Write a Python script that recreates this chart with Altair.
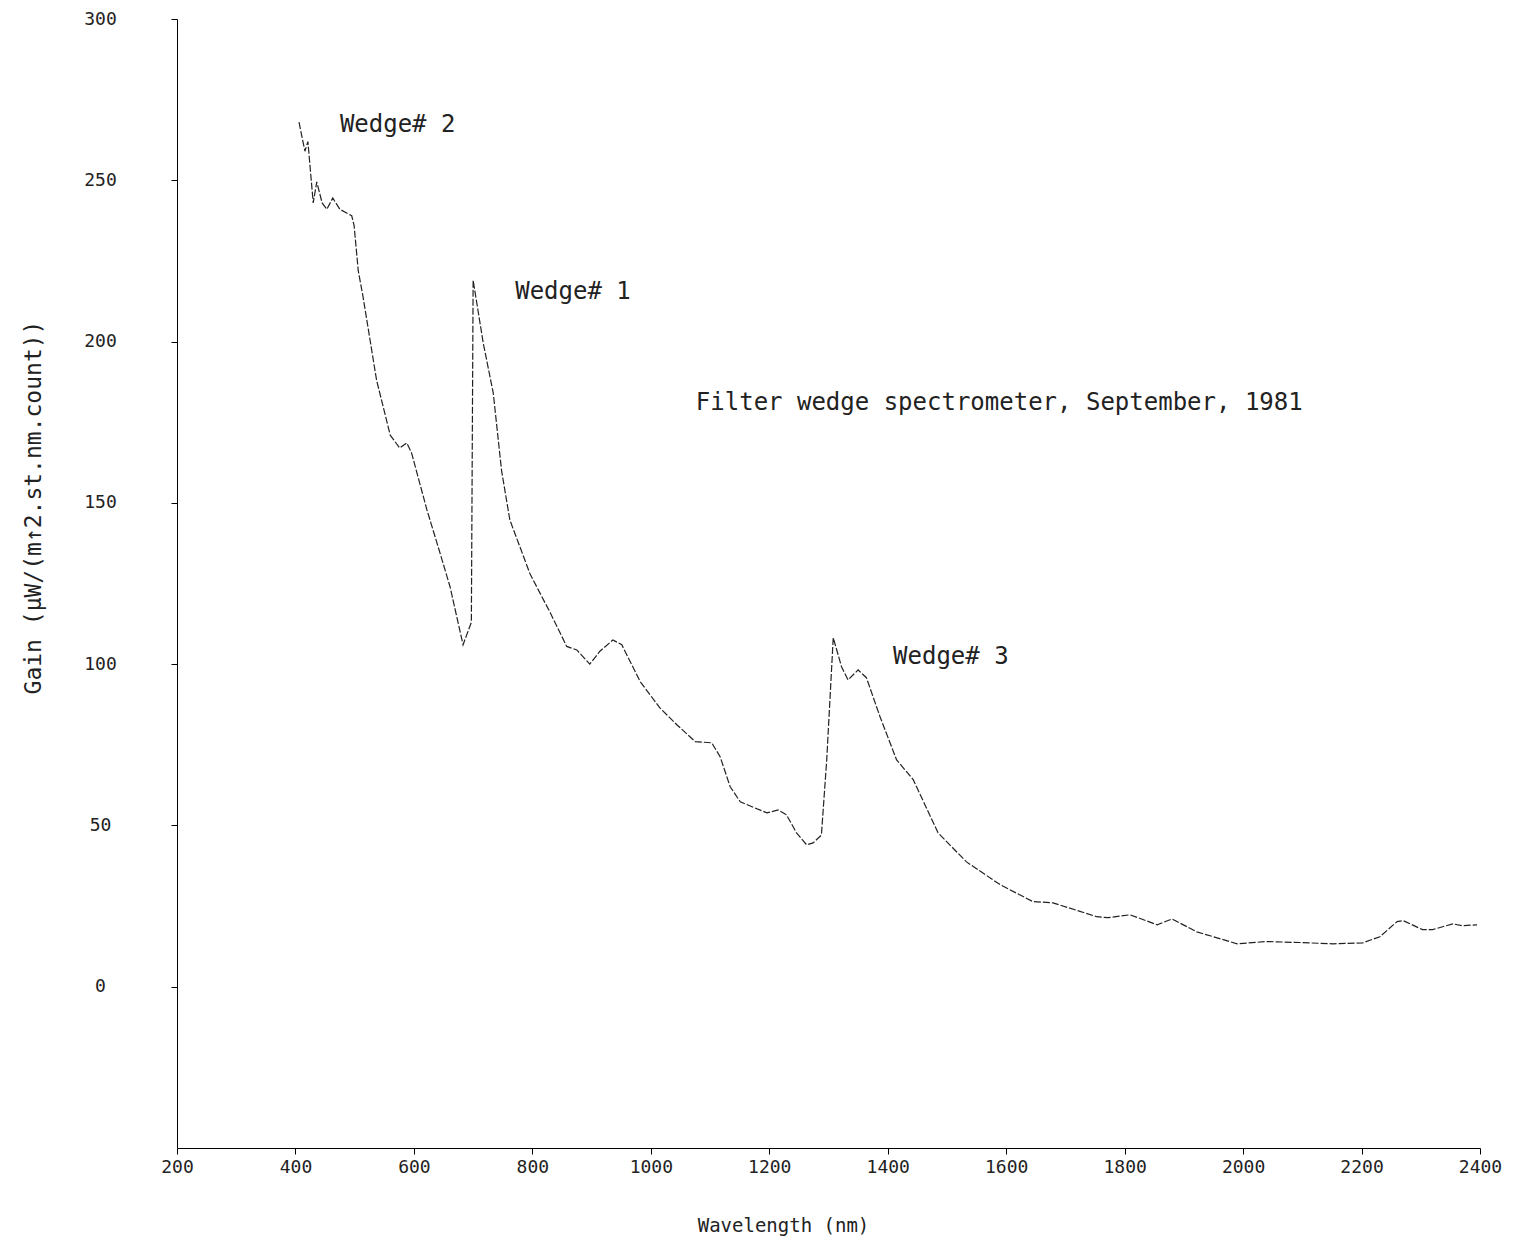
import altair as alt
import pandas as pd

# Spectral gain curve
wavelength = [406, 416, 421, 430, 436, 445, 453, 463, 475, 495, 499, 506, 514, 537, 560,
              576, 588, 596, 622, 644, 661, 683, 697, 700, 717, 734, 748, 762, 796, 830, 858,
              875, 897, 914, 936, 951, 982, 1015, 1044, 1075, 1103, 1117, 1134, 1151, 1196,
              1215, 1229, 1246, 1263, 1274, 1288, 1297, 1308, 1322, 1333, 1350, 1364, 1387,
              1415, 1443, 1485, 1533, 1590, 1645, 1679, 1753, 1772, 1809, 1855, 1880, 1922,
              1990, 2040, 2096, 2152, 2202, 2231, 2260, 2270, 2303, 2320, 2354, 2371, 2395]
gain = [268, 259, 262, 243, 249.5, 243, 241, 244.5, 241, 239, 236, 222, 214, 188, 171,
        167, 168.6, 165.5, 147.8, 134.5, 124, 106, 113, 219, 199.6, 184, 160, 144.7, 128, 116, 105.5,
        104.4, 100, 104, 107.5, 106, 94.6, 86.5, 81.2, 76, 75.6, 71.3, 62, 57.3, 53.9,
        54.8, 53.3, 47.7, 44, 44.6, 47, 70.3, 108.2, 99.2, 95.1, 98.2, 95.8, 83.7,
        70.3, 64.2, 47.7, 38.7, 31.6, 26.4, 26, 21.7, 21.4, 22.3, 19.2, 21, 17,
        13.3, 14, 13.7, 13.3, 13.6, 15.5, 20.2, 20.5, 17.7, 17.7, 19.5, 18.9, 19.2]

# Annotations
note_text = ["Wedge# 2", "Wedge# 1", "Wedge# 3", "Filter wedge spectrometer, September, 1981"]
note_x = [475, 771, 1409, 1076]
note_y = [267, 215.4, 102.3, 181]

x_ticks = [200, 400, 600, 800, 1000, 1200, 1400, 1600, 1800, 2000, 2200, 2400]
y_ticks = [0, 50, 100, 150, 200, 250, 300]

FONT = "DejaVu Sans Mono"

curve = pd.DataFrame({"wl": wavelength, "gain": gain})
notes = pd.DataFrame({"t": note_text, "x": note_x, "y": note_y})

xscale = alt.Scale(domain=[200, 2400], nice=False, zero=False)
yscale = alt.Scale(domain=[-50, 300], nice=False, zero=False)

line = alt.Chart(curve).mark_line(color="#222222", strokeWidth=1.2, strokeDash=[7, 2]).encode(
    x=alt.X("wl:Q", scale=xscale,
            axis=alt.Axis(title="Wavelength  (nm)", values=x_ticks, format="d", grid=False,
                          tickSize=6, labelPadding=4, labelFontSize=18, labelFont=FONT,
                          titleFont=FONT, titleFontSize=19, titleFontWeight="normal",
                          titleX=606, titleY=77, titleBaseline="middle",
                          domainColor="black", tickColor="black", labelColor="#222",
                          titleColor="#222", labelFlush=False)),
    y=alt.Y("gain:Q", scale=yscale,
            axis=alt.Axis(title="Gain  (µW/(m↑2.st.nm.count))", values=y_ticks, format="d",
                          grid=False,
                          tickSize=6, labelPadding=71, labelAlign="center",
                          labelFontSize=18, labelFont=FONT,
                          titleFont=FONT, titleFontSize=23, titleFontWeight="normal",
                          titleX=-144, titleY=488, titleAngle=270, titleAlign="center",
                          titleBaseline="middle",
                          domainColor="black", tickColor="black", labelColor="#222",
                          titleColor="#222", labelFlush=False)),
)

text = alt.Chart(notes).mark_text(align="left", baseline="middle", font=FONT,
                                  fontSize=24, color="#222222").encode(
    x=alt.X("x:Q", scale=xscale),
    y=alt.Y("y:Q", scale=yscale),
    text="t:N",
)

chart = alt.layer(line, text).properties(
    width=1303, height=1129,
    autosize=alt.AutoSizeParams(type="none"),
    padding={"left": 177, "top": 19, "right": 44, "bottom": 95},
    background="white",
).configure_view(stroke=None)

chart.save("out.html", embed_options={"renderer": "svg", "actions": False})
